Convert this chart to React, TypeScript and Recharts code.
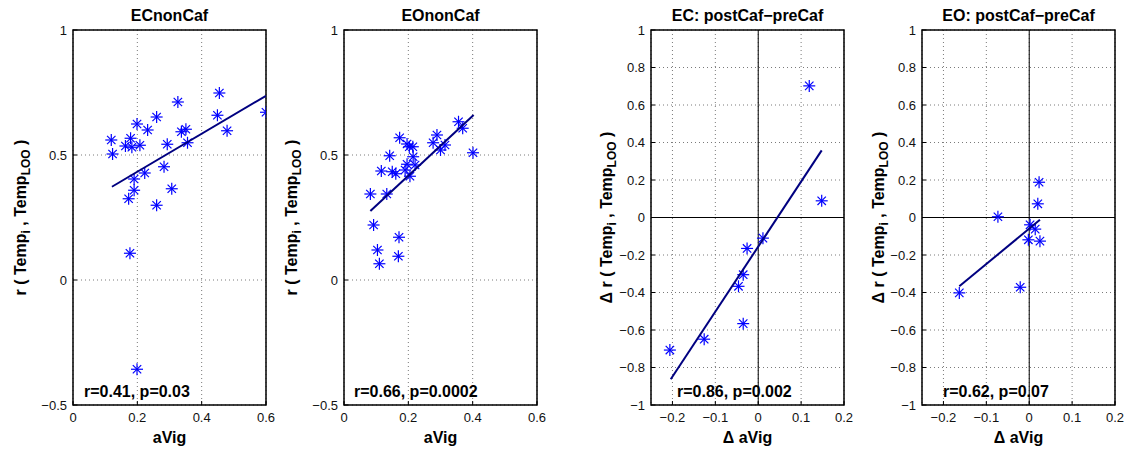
import React from 'react';
import {
  ScatterChart,
  Scatter,
  XAxis,
  YAxis,
  CartesianGrid,
  ReferenceLine,
  ReferenceArea,
} from 'recharts';

// ECnonCaf
const ecNonX = [0.119, 0.123, 0.163, 0.179, 0.183, 0.199, 0.208, 0.232, 0.26, 0.326, 0.293, 0.337, 0.351, 0.356, 0.455, 0.449, 0.479, 0.6, 0.283, 0.223, 0.19, 0.19, 0.173, 0.307, 0.26, 0.177, 0.199];
const ecNonY = [0.56, 0.504, 0.536, 0.567, 0.531, 0.624, 0.539, 0.6, 0.652, 0.712, 0.543, 0.593, 0.603, 0.549, 0.748, 0.659, 0.597, 0.671, 0.453, 0.428, 0.404, 0.359, 0.325, 0.365, 0.299, 0.107, -0.357];
const ecNonFitX = [0.121, 0.6];
const ecNonFitY = [0.373, 0.737];

// EOnonCaf
const eoNonX = [0.082, 0.092, 0.104, 0.11, 0.116, 0.133, 0.142, 0.15, 0.161, 0.173, 0.171, 0.169, 0.19, 0.196, 0.196, 0.203, 0.214, 0.215, 0.205, 0.221, 0.277, 0.289, 0.3, 0.314, 0.356, 0.369, 0.401];
const eoNonY = [0.344, 0.22, 0.12, 0.065, 0.436, 0.344, 0.497, 0.433, 0.425, 0.569, 0.171, 0.095, 0.44, 0.463, 0.544, 0.533, 0.533, 0.493, 0.415, 0.46, 0.549, 0.58, 0.52, 0.54, 0.633, 0.607, 0.509];
const eoNonFitX = [0.082, 0.403];
const eoNonFitY = [0.276, 0.66];

// EC: postCaf-preCaf
const ecDiffX = [-0.206, -0.126, -0.046, -0.035, -0.026, -0.035, 0.011, 0.119, 0.148];
const ecDiffY = [-0.707, -0.649, -0.367, -0.305, -0.165, -0.566, -0.11, 0.702, 0.089];
const ecDiffFitX = [-0.204, 0.148];
const ecDiffFitY = [-0.863, 0.358];

// EO: postCaf-preCaf
const eoDiffX = [-0.163, -0.073, -0.021, -0.002, 0.002, 0.014, 0.023, 0.02, 0.025];
const eoDiffY = [-0.402, 0.004, -0.372, -0.119, -0.039, -0.062, 0.188, 0.073, -0.126];
const eoDiffFitX = [-0.163, 0.025];
const eoDiffFitY = [-0.367, -0.012];

const rawXTicks = [0, 0.2, 0.4, 0.6];
const rawYTicks = [-0.5, 0, 0.5, 1];
const diffXTicks = [-0.2, -0.1, 0, 0.1, 0.2];
const diffYTicks = [-1, -0.8, -0.6, -0.4, -0.2, 0, 0.2, 0.4, 0.6, 0.8, 1];

const titles = ['ECnonCaf', 'EOnonCaf', 'EC: postCaf\u2212preCaf', 'EO: postCaf\u2212preCaf'];
const stats = ['r=0.41, p=0.03', 'r=0.66, p=0.0002', 'r=0.86, p=0.002', 'r=0.62, p=0.07'];

const FONT = '"Liberation Sans", Arial, Helvetica, sans-serif';
const PLOT_W = 193;
const PLOT_TOP = 30;
const PLOT_H = 375;

const fmt = (v: number) => String(Number(v.toFixed(2))).replace('-', '\u2212');

const toPoints = (xs: number[], ys: number[]) => xs.map((x, i) => ({ x, y: ys[i] }));

const Star = (props: any) => {
  const { cx, cy } = props;
  if (cx == null || cy == null) return <g />;
  const r = 6;
  const d = 4.2;
  return (
    <g stroke="#0000ff" strokeWidth={1.2}>
      <line x1={cx - r} y1={cy} x2={cx + r} y2={cy} />
      <line x1={cx} y1={cy - r} x2={cx} y2={cy + r} />
      <line x1={cx - d} y1={cy - d} x2={cx + d} y2={cy + d} />
      <line x1={cx - d} y1={cy + d} x2={cx + d} y2={cy - d} />
    </g>
  );
};

type PanelProps = {
  plotLeft: number;
  xs: number[];
  ys: number[];
  fitX: number[];
  fitY: number[];
  xDomain: [number, number];
  yDomain: [number, number];
  xTicks: number[];
  yTicks: number[];
  zeroLines?: boolean;
};

function Panel(p: PanelProps) {
  const pts = toPoints(p.xs, p.ys);
  const fit = toPoints(p.fitX, p.fitY);
  const tickStyle = { fontSize: 13, fill: '#111', fontFamily: FONT };
  return (
    <div style={{ position: 'absolute', left: p.plotLeft - 60, top: 0 }}>
      <ScatterChart width={268} height={451} margin={{ top: PLOT_TOP, right: 15, bottom: 16, left: 20 }}>
        <CartesianGrid stroke="#7a7a7a" strokeDasharray="1 3" />
        <XAxis
          type="number"
          dataKey="x"
          domain={p.xDomain}
          ticks={p.xTicks}
          allowDataOverflow
          height={30}
          tickSize={-4}
          tickMargin={12}
          tickLine={{ stroke: '#000' }}
          axisLine={false}
          tick={tickStyle}
          tickFormatter={fmt}
          interval={0}
        />
        <YAxis
          type="number"
          dataKey="y"
          domain={p.yDomain}
          ticks={p.yTicks}
          allowDataOverflow
          width={40}
          tickSize={-4}
          tickMargin={10}
          tickLine={{ stroke: '#000' }}
          axisLine={false}
          tick={tickStyle}
          tickFormatter={fmt}
          interval={0}
        />
        {p.zeroLines && <ReferenceLine x={0} stroke="#000" strokeWidth={1} />}
        {p.zeroLines && <ReferenceLine y={0} stroke="#000" strokeWidth={1} />}
        <ReferenceArea
          x1={p.xDomain[0]}
          x2={p.xDomain[1]}
          y1={p.yDomain[0]}
          y2={p.yDomain[1]}
          fill="none"
          fillOpacity={0}
          stroke="#000"
          strokeWidth={1.5}
        />
        <Scatter data={pts} shape={Star} isAnimationActive={false} />
        <Scatter
          data={fit}
          line={{ stroke: '#000080', strokeWidth: 2 }}
          shape={() => <g />}
          isAnimationActive={false}
        />
      </ScatterChart>
    </div>
  );
}

const plotLefts = [73, 344, 651, 922];
const yLabelOffsets = [47, 47, 39, 38];
const statOffsets = [11, 10, 26, 21];

function YLabel({ x, delta }: { x: number; delta: boolean }) {
  const cy = PLOT_TOP + PLOT_H / 2;
  return (
    <text
      x={x}
      y={cy}
      transform={`rotate(-90 ${x} ${cy})`}
      textAnchor="middle"
      fontFamily={FONT}
      fontWeight="bold"
      fontSize={16}
      fill="#000"
    >
      {delta ? '\u0394 r ( Temp' : 'r ( Temp'}
      <tspan fontSize={12} dy={4}>i</tspan>
      <tspan dy={-4}> , Temp</tspan>
      <tspan fontSize={12} dy={4}>LOO</tspan>
      <tspan dy={-4}> )</tspan>
    </text>
  );
}

export default function App() {
  return (
    <div style={{ position: 'absolute', left: 0, top: 0, width: 1130, height: 451, background: '#fff' }}>
      <Panel plotLeft={plotLefts[0]} xs={ecNonX} ys={ecNonY} fitX={ecNonFitX} fitY={ecNonFitY}
        xDomain={[0, 0.6]} yDomain={[-0.5, 1]} xTicks={rawXTicks} yTicks={rawYTicks} />
      <Panel plotLeft={plotLefts[1]} xs={eoNonX} ys={eoNonY} fitX={eoNonFitX} fitY={eoNonFitY}
        xDomain={[0, 0.6]} yDomain={[-0.5, 1]} xTicks={rawXTicks} yTicks={rawYTicks} />
      <Panel plotLeft={plotLefts[2]} xs={ecDiffX} ys={ecDiffY} fitX={ecDiffFitX} fitY={ecDiffFitY}
        xDomain={[-0.25, 0.2]} yDomain={[-1, 1]} xTicks={diffXTicks} yTicks={diffYTicks} zeroLines />
      <Panel plotLeft={plotLefts[3]} xs={eoDiffX} ys={eoDiffY} fitX={eoDiffFitX} fitY={eoDiffFitY}
        xDomain={[-0.25, 0.2]} yDomain={[-1, 1]} xTicks={diffXTicks} yTicks={diffYTicks} zeroLines />

      <svg width={1130} height={451} style={{ position: 'absolute', left: 0, top: 0, pointerEvents: 'none' }}>
        {plotLefts.map((left, i) => (
          <g key={i}>
            <text x={left + PLOT_W / 2} y={21} textAnchor="middle" fontFamily={FONT} fontWeight="bold" fontSize={16} fill="#000">
              {titles[i]}
            </text>
            <text x={left + statOffsets[i]} y={397} fontFamily={FONT} fontWeight="bold" fontSize={16} fill="#000">
              {stats[i]}
            </text>
            <text x={left + PLOT_W / 2} y={443} textAnchor="middle" fontFamily={FONT} fontWeight="bold" fontSize={16} fill="#000">
              {i < 2 ? 'aVig' : '\u0394 aVig'}
            </text>
            <YLabel x={left - yLabelOffsets[i]} delta={i >= 2} />
          </g>
        ))}
      </svg>
    </div>
  );
}
